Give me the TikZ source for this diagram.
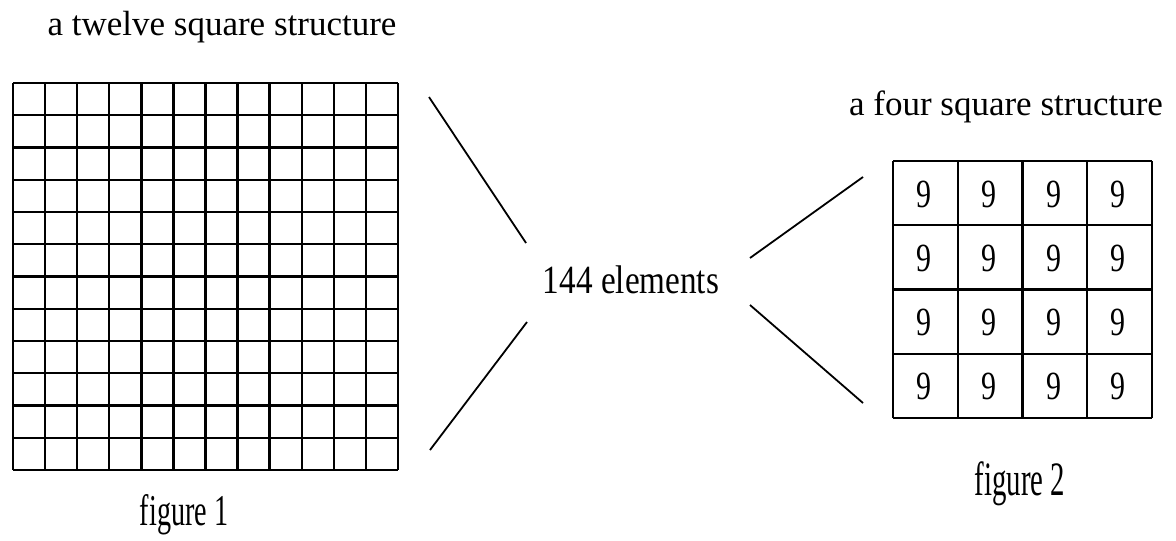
\documentclass[tikz,border=0pt]{standalone}
\usepackage{fontspec}
\setmainfont{Liberation Serif}
\begin{document}
\begin{tikzpicture}[x=1pt,y=-1pt,
  gridline/.style={line width=2.4pt,black},
  connector/.style={line width=1.8pt,black},
  lbl/.style={inner sep=0pt,anchor=base},
  nine/.style={inner sep=0pt,font=\fontsize{40}{40}\selectfont}]
\useasboundingbox (0,0) rectangle (1176,541);
% figure 1 grid 12x12
\foreach \i in {0,...,12}{
  \draw[gridline] ({13+\i*32.083},83) -- ({13+\i*32.083},470);
  \draw[gridline] (13,{83+\i*32.25}) -- (398,{83+\i*32.25});
}
\node[inner sep=0pt,minimum width=385pt,minimum height=387pt,anchor=north west] (g1) at (13,83) {};
% figure 2 grid 4x4
\foreach \i in {0,...,4}{
  \draw[gridline] ({893+\i*64.75},161) -- ({893+\i*64.75},418);
  \draw[gridline] (893,{161+\i*64.25}) -- (1152,{161+\i*64.25});
}
\node[inner sep=0pt,minimum width=259pt,minimum height=257pt,anchor=north west] (g2) at (893,161) {};
\foreach \r in {0,...,3}{
  \foreach \c in {0,...,3}{
    \node[nine] (n\r\c) at ({893+31+\c*64.75},{161+33+\r*64.25}) {\scalebox{0.75}[1]{9}};
  }
}
% labels
\node[lbl,font=\fontsize{35}{35}\selectfont] (t1) at (222,35) {a twelve square structure};
\node[lbl,font=\fontsize{35}{35}\selectfont] (t2) at (1006,115) {a four square structure};
\node[lbl,font=\fontsize{40}{40}\selectfont] (m) at (631,293) {\scalebox{0.83}[1]{144 elements}};
\node[lbl,font=\fontsize{44}{44}\selectfont] (f1) at (184,525) {\scalebox{0.64}[1]{figure 1}};
\node[lbl,font=\fontsize{48}{48}\selectfont] (f2) at (1020,495) {\scalebox{0.6}[1]{figure 2}};
% connectors
\coordinate (a1) at (429,97);  \coordinate (a2) at (526,243);
\coordinate (b1) at (430,450); \coordinate (b2) at (527,322);
\coordinate (c1) at (750,258); \coordinate (c2) at (863,177);
\coordinate (d1) at (750,305); \coordinate (d2) at (863,403);
\draw[connector] (a1) -- (a2);
\draw[connector] (b1) -- (b2);
\draw[connector] (c1) -- (c2);
\draw[connector] (d1) -- (d2);
\end{tikzpicture}
\end{document}
